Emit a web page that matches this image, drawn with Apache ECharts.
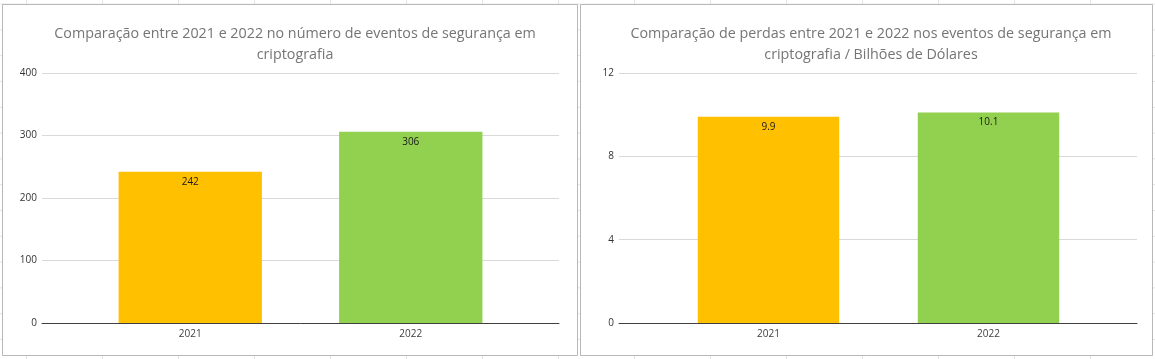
<!DOCTYPE html>
<html>
<head>
<meta charset="utf-8">
<script src="https://cdn.jsdelivr.net/npm/echarts@6/dist/echarts.min.js"></script>
<style>
  html, body { margin: 0; padding: 0; }
  body {
    width: 1155px; height: 359px; overflow: hidden;
    background-color: #ffffff;
    background-image:
      linear-gradient(to right, #e3e3e3 1px, transparent 1px),
      linear-gradient(to bottom, #e3e3e3 1px, transparent 1px);
    background-size: 76px 25.8px;
    background-position: 26px 3.6px;
  }
  #chart { width: 1155px; height: 359px; }
</style>
</head>
<body>
<div id="chart"></div>
<script>
// ---- data ----
const categories = ['2021', '2022'];
const eventCounts = [242, 306];
const lossesBillions = [9.9, 10.1];
const barColors = ['#FFC000', '#92D050'];
const leftTitle = 'Comparação entre 2021 e 2022 no número de eventos de segurança em\ncriptografia';
const rightTitle = 'Comparação de perdas entre 2021 e 2022 nos eventos de segurança em\ncriptografia / Bilhões de Dólares';
const leftAxis = { min: 0, max: 400, interval: 100 };
const rightAxis = { min: 0, max: 12, interval: 4 };

const FONT = '"Open Sans", "Noto Sans", sans-serif';
const chart = echarts.init(document.getElementById('chart'), null, { renderer: 'canvas' });

function fullGrid(left, width) { return { left: left, width: width, top: 73, height: 250, containLabel: false }; }

const option = {
  backgroundColor: 'transparent',
  animation: false,
  graphic: [
    { type: 'rect', shape: { x: 2.5, y: 4.5, width: 575, height: 351 }, style: { fill: '#ffffff', stroke: '#b8b8b8', lineWidth: 1 }, z: -10 },
    { type: 'rect', shape: { x: 580.5, y: 4.5, width: 572, height: 351 }, style: { fill: '#ffffff', stroke: '#b8b8b8', lineWidth: 1 }, z: -10 }
  ],
  title: [
    { text: leftTitle, left: 290, top: 18, textAlign: 'center',
      textStyle: { fontFamily: FONT, fontSize: 14.3, fontWeight: 'normal', color: '#757575', lineHeight: 21, align: 'center' } },
    { text: rightTitle, left: 866, top: 18, textAlign: 'center',
      textStyle: { fontFamily: FONT, fontSize: 14.3, fontWeight: 'normal', color: '#757575', lineHeight: 21, align: 'center' } }
  ],
  grid: [
    fullGrid(42, 517),
    fullGrid(80, 441),
    fullGrid(619, 518),
    fullGrid(658.5, 440)
  ],
  xAxis: [
    { type: 'category', gridIndex: 0, data: categories, axisTick: { show: false }, axisLabel: { show: false },
      axisLine: { show: true, lineStyle: { color: '#404040', width: 1 } } },
    { type: 'category', gridIndex: 1, data: categories, axisTick: { show: false }, axisLine: { show: false },
      axisLabel: { fontFamily: FONT, fontSize: 10, color: '#404040', margin: 6 } },
    { type: 'category', gridIndex: 2, data: categories, axisTick: { show: false }, axisLabel: { show: false },
      axisLine: { show: true, lineStyle: { color: '#404040', width: 1 } } },
    { type: 'category', gridIndex: 3, data: categories, axisTick: { show: false }, axisLine: { show: false },
      axisLabel: { fontFamily: FONT, fontSize: 10, color: '#404040', margin: 6 } }
  ],
  yAxis: [
    { type: 'value', gridIndex: 0, min: leftAxis.min, max: leftAxis.max, interval: leftAxis.interval,
      axisLine: { show: false }, axisTick: { show: false },
      axisLabel: { fontFamily: FONT, fontSize: 10, color: '#333333', margin: 5 },
      splitLine: { lineStyle: { color: '#d9d9d9', width: 1 } } },
    { type: 'value', gridIndex: 1, min: leftAxis.min, max: leftAxis.max, interval: leftAxis.interval, show: false },
    { type: 'value', gridIndex: 2, min: rightAxis.min, max: rightAxis.max, interval: rightAxis.interval,
      axisLine: { show: false }, axisTick: { show: false },
      axisLabel: { fontFamily: FONT, fontSize: 10, color: '#333333', margin: 5 },
      splitLine: { lineStyle: { color: '#d9d9d9', width: 1 } } },
    { type: 'value', gridIndex: 3, min: rightAxis.min, max: rightAxis.max, interval: rightAxis.interval, show: false }
  ],
  series: [
    { type: 'bar', xAxisIndex: 1, yAxisIndex: 1, data: eventCounts, barWidth: '65%',
      itemStyle: { color: p => barColors[p.dataIndex] },
      label: { show: true, position: 'insideTop', distance: 5, fontFamily: FONT, fontSize: 10, color: '#1a1a1a' } },
    { type: 'bar', xAxisIndex: 3, yAxisIndex: 3, data: lossesBillions, barWidth: '64.3%',
      itemStyle: { color: p => barColors[p.dataIndex] },
      label: { show: true, position: 'insideTop', distance: 5, fontFamily: FONT, fontSize: 10, color: '#1a1a1a' } }
  ]
};
chart.setOption(option);
</script>
</body>
</html>
